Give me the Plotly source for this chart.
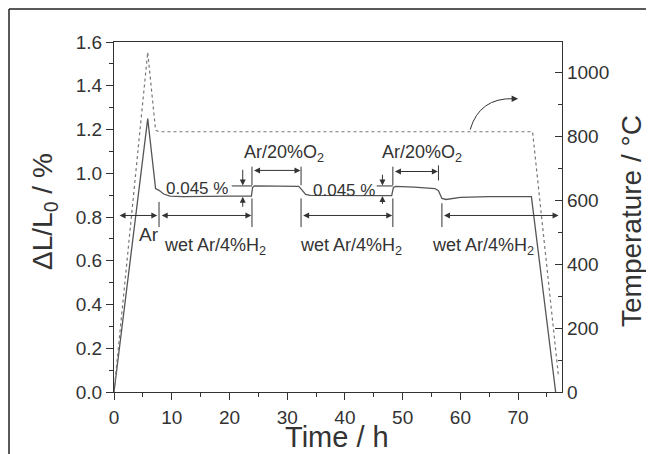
import plotly.graph_objects as go

# ---- data ----
time_dl = [0, 5.84, 7.2, 7.8, 8.6, 9.7, 12, 16, 20, 23.8, 24.0, 24.3, 28, 32.0, 32.5, 33.2, 34,
           40, 46, 48.1, 48.4, 48.8, 52, 55.6, 56.2, 56.8, 57.5, 60, 65, 72.3, 76.5]
dl_values = [0, 1.25, 0.93, 0.922, 0.905, 0.895, 0.893, 0.895, 0.895, 0.895, 0.935, 0.942, 0.941, 0.940,
             0.925, 0.903, 0.899, 0.898, 0.897, 0.898, 0.935, 0.940, 0.937, 0.930, 0.920, 0.885, 0.880,
             0.890, 0.893, 0.893, 0]
time_temp = [0, 5.84, 7.2, 7.8, 40, 72.5, 77.0]
temp_values = [0, 1064, 820, 815, 815, 815, 47]

x_ticks = [0, 10, 20, 30, 40, 50, 60, 70]
y_ticks = [0.0, 0.2, 0.4, 0.6, 0.8, 1.0, 1.2, 1.4, 1.6]
y2_ticks = [0, 200, 400, 600, 800, 1000]

FONT = "Liberation Sans, Arial, sans-serif"
TXT = "#333333"
LINE = "#555555"

fig = go.Figure()
fig.add_trace(go.Scatter(x=time_dl, y=dl_values, mode="lines",
                         line=dict(color=LINE, width=1.3), showlegend=False))
fig.add_trace(go.Scatter(x=time_temp, y=temp_values, mode="lines", yaxis="y2",
                         line=dict(color="#777777", width=1.2, dash="dot"), showlegend=False))

OFF = 8  # page body margin
W, H = 654 - OFF, 454 - OFF
ml, mr, mt, mb = 106, 92, 34, 62
pw, ph = W - ml - mr, H - mt - mb

fig.update_layout(
    width=W, height=H,
    margin=dict(l=ml, r=mr, t=mt, b=mb, autoexpand=False),
    paper_bgcolor="white", plot_bgcolor="white",
    font=dict(family=FONT, color=TXT, size=19),
    xaxis=dict(range=[0, 77.6], tickvals=x_ticks, ticks="outside", ticklen=7, tickwidth=1.2,
               tickcolor="#333", showline=True, linecolor="#333", linewidth=1.3, mirror=True,
               showgrid=False, zeroline=False, automargin=False, ticklabelstandoff=1,
               minor=dict(dtick=5, tick0=0, ticks="outside", ticklen=4, tickcolor="#333"),
               tickfont=dict(size=19)),
    yaxis=dict(range=[0, 1.6], tickvals=y_ticks, tickformat=".1f", ticks="outside", ticklen=7,
               tickwidth=1.2, tickcolor="#333", showline=True, linecolor="#333", linewidth=1.3,
               showgrid=False, zeroline=False, automargin=False,
               minor=dict(dtick=0.1, tick0=0, ticks="outside", ticklen=4, tickcolor="#333"),
               tickfont=dict(size=19)),
    yaxis2=dict(range=[0, 1096], tickvals=y2_ticks, overlaying="y", side="right", ticks="inside",
                ticklen=7, tickwidth=1.2, tickcolor="#333", showline=True, linecolor="#333",
                linewidth=1.3, showgrid=False, zeroline=False, automargin=False,
                minor=dict(dtick=100, tick0=0, ticks="inside", ticklen=4, tickcolor="#333"),
                tickfont=dict(size=19)),
)

def px2paper_x(px):
    return (px - OFF - ml) / pw

def px2paper_y(py):
    return (H - mb - (py - OFF)) / ph

# axis titles
fig.add_annotation(x=px2paper_x(337), y=px2paper_y(437), xref="paper", yref="paper",
                   text="Time / h", showarrow=False, font=dict(size=29, color=TXT),
                   xanchor="center", yanchor="middle")
fig.add_annotation(x=px2paper_x(44), y=px2paper_y(212), xref="paper", yref="paper",
                   text="ΔL/L<sub>0</sub> / %", showarrow=False, font=dict(size=28, color=TXT),
                   textangle=-90, xanchor="center", yanchor="middle")
fig.add_annotation(x=px2paper_x(631), y=px2paper_y(221), xref="paper", yref="paper",
                   text="Temperature / °C", showarrow=False, font=dict(size=28, color=TXT),
                   textangle=-90, xanchor="center", yanchor="middle")

# outer frame (left and top edges visible)
fig.add_shape(type="line", xref="paper", yref="paper", x0=px2paper_x(9), x1=px2paper_x(9),
              y0=px2paper_y(470), y1=px2paper_y(9), line=dict(color="#222", width=1.5))
fig.add_shape(type="line", xref="paper", yref="paper", x0=px2paper_x(9), x1=px2paper_x(670),
              y0=px2paper_y(9), y1=px2paper_y(9), line=dict(color="#222", width=1.5))

# double-headed arrows
def darrow(x0, x1, y):
    fig.add_annotation(x=x1, y=y, ax=x0, ay=y, xref="x", yref="y", axref="x", ayref="y",
                       text="", showarrow=True, arrowhead=2, startarrowhead=2, arrowside="end+start",
                       arrowsize=1.2, startarrowsize=1.2, arrowwidth=1, arrowcolor="#333")

def sarrow(x, y0, y1):
    fig.add_annotation(x=x, y=y1, ax=x, ay=y0, xref="x", yref="y", axref="x", ayref="y",
                       text="", showarrow=True, arrowhead=2, arrowsize=1.2, arrowwidth=1,
                       arrowcolor="#333")

def vline(x, y0, y1):
    fig.add_shape(type="line", xref="x", yref="y", x0=x, x1=x, y0=y0, y1=y1,
                  line=dict(color="#333", width=1))

def hline(x0, x1, y):
    fig.add_shape(type="line", xref="x", yref="y", x0=x0, x1=x1, y0=y, y1=y,
                  line=dict(color="#333", width=1))

# lower arrows
darrow(0.7, 7.5, 0.807)
darrow(8.0, 23.8, 0.807)
darrow(32.5, 48.2, 0.807)
darrow(56.9, 77.0, 0.807)
vline(7.8, 0.754, 0.869)
vline(23.9, 0.754, 0.885)
vline(32.4, 0.754, 0.885)
vline(48.3, 0.754, 0.885)
vline(56.8, 0.754, 0.863)

# upper arrows
darrow(24.0, 32.3, 1.013)
darrow(48.4, 56.1, 1.008)
vline(23.9, 0.945, 1.03)
vline(32.4, 0.945, 1.03)
vline(48.3, 0.945, 1.03)
vline(56.2, 0.967, 1.036)

# 0.045 % indicators
sarrow(22.3, 1.023, 0.944)
sarrow(22.3, 0.84, 0.893)
hline(20.4, 23.9, 0.942)
sarrow(46.5, 1.0, 0.944)
sarrow(46.5, 0.853, 0.896)
hline(45.5, 48.3, 0.942)

# curved arrow pointing to the right axis
fig.add_shape(type="path", xref="x", yref="y",
              path="M 61.7,1.2 Q 63.3,1.345 69.2,1.341", line=dict(color="#333", width=1))
fig.add_annotation(x=70.0, y=1.341, ax=69.0, ay=1.341, xref="x", yref="y", axref="x", ayref="y",
                   text="", showarrow=True, arrowhead=2, arrowsize=1.3, arrowwidth=1,
                   arrowcolor="#333")

# labels
def label(x, y, text, size=18):
    fig.add_annotation(x=x, y=y, xref="x", yref="y", text=text, showarrow=False,
                       font=dict(size=size, color=TXT, family=FONT), xanchor="center", yanchor="middle")

label(14.4, 0.931, "0.045 %", 17)
label(39.9, 0.919, "0.045 %", 17)
label(6.1, 0.721, "Ar", 19)
label(17.5, 0.665, "wet Ar/4%H<sub>2</sub>")
label(41.1, 0.665, "wet Ar/4%H<sub>2</sub>")
label(64.0, 0.665, "wet Ar/4%H<sub>2</sub>")
label(29.4, 1.09, "Ar/20%O<sub>2</sub>")
label(53.4, 1.09, "Ar/20%O<sub>2</sub>")

fig.write_html("out.html")
